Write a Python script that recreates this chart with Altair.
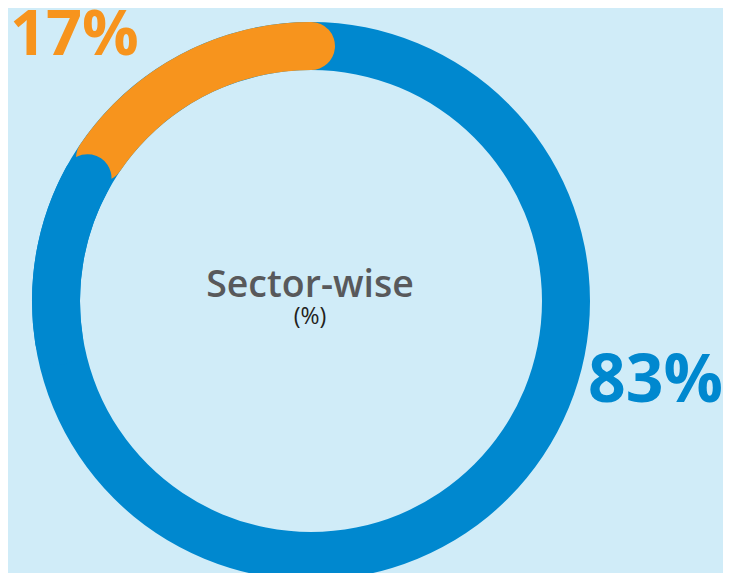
import altair as alt
import pandas as pd
import math

# Data
segments = ["Others", "Sector"]
values = [83, 17]
colors = ["#0088CF", "#F7941D"]
labels = ["83%", "17%"]
center_title = "Sector-wise"
center_sub = "(%)"

CAP = 1.5  # cap extension in percent units (style)

starts = [0, values[0]]
ends = [values[0], 100]

base_ring = pd.DataFrame({"s": [0], "e": [100], "c": [colors[0]]})
orange_arc = pd.DataFrame({"s": [starts[1]], "e": [ends[1] + CAP], "c": [colors[1]]})
blue_cap = pd.DataFrame({"s": [ends[0] - 12], "e": [ends[0] + CAP], "c": [colors[0]]})

theta_scale = alt.Scale(domain=[0, 100], range=[0, 2 * math.pi])
CX, CY = 303, 293
RO, RI = 279, 231


def arc_layer(df, rounded):
    kw = dict(outerRadius=RO, innerRadius=RI)
    if rounded:
        kw["cornerRadius"] = (RO - RI) / 2
    return alt.Chart(df).mark_arc(**kw).encode(
        theta=alt.Theta("s:Q", scale=theta_scale),
        theta2="e:Q",
        color=alt.Color("c:N", scale=None),
        x=alt.value(CX),
        y=alt.value(CY),
    )


ring = arc_layer(base_ring, False)
orange = arc_layer(orange_arc, True)
cap = arc_layer(blue_cap, True)

t17 = alt.Chart(pd.DataFrame({"t": [labels[1]]})).mark_text(
    align="left", baseline="alphabetic", font="Open Sans", fontWeight="bold",
    fontSize=63, color=colors[1]
).encode(text="t:N", x=alt.value(2), y=alt.value(47))

t83 = alt.Chart(pd.DataFrame({"t": [labels[0]]})).mark_text(
    align="right", baseline="alphabetic", font="Open Sans", fontWeight="bold",
    fontSize=66, color=colors[0]
).encode(text="t:N", x=alt.value(715), y=alt.value(394))

ttl = alt.Chart(pd.DataFrame({"t": [center_title]})).mark_text(
    align="center", baseline="alphabetic", font="Open Sans", fontWeight=600,
    fontSize=37.5, color="#58595B"
).encode(text="t:N", x=alt.value(302), y=alt.value(289))

sub = alt.Chart(pd.DataFrame({"t": [center_sub]})).mark_text(
    align="center", baseline="alphabetic", font="Open Sans",
    fontSize=23, color="#231F20"
).encode(text="t:N", x=alt.value(302), y=alt.value(316))

chart = alt.layer(ring, orange, cap, t17, t83, ttl, sub).properties(
    width=715, height=565,
    autosize=alt.AutoSizeParams(type="none"),
    padding=0,
    background="#D0ECF8",
).configure_view(stroke=None)

chart.save("out.html", embed_options={"renderer": "svg", "actions": False})
